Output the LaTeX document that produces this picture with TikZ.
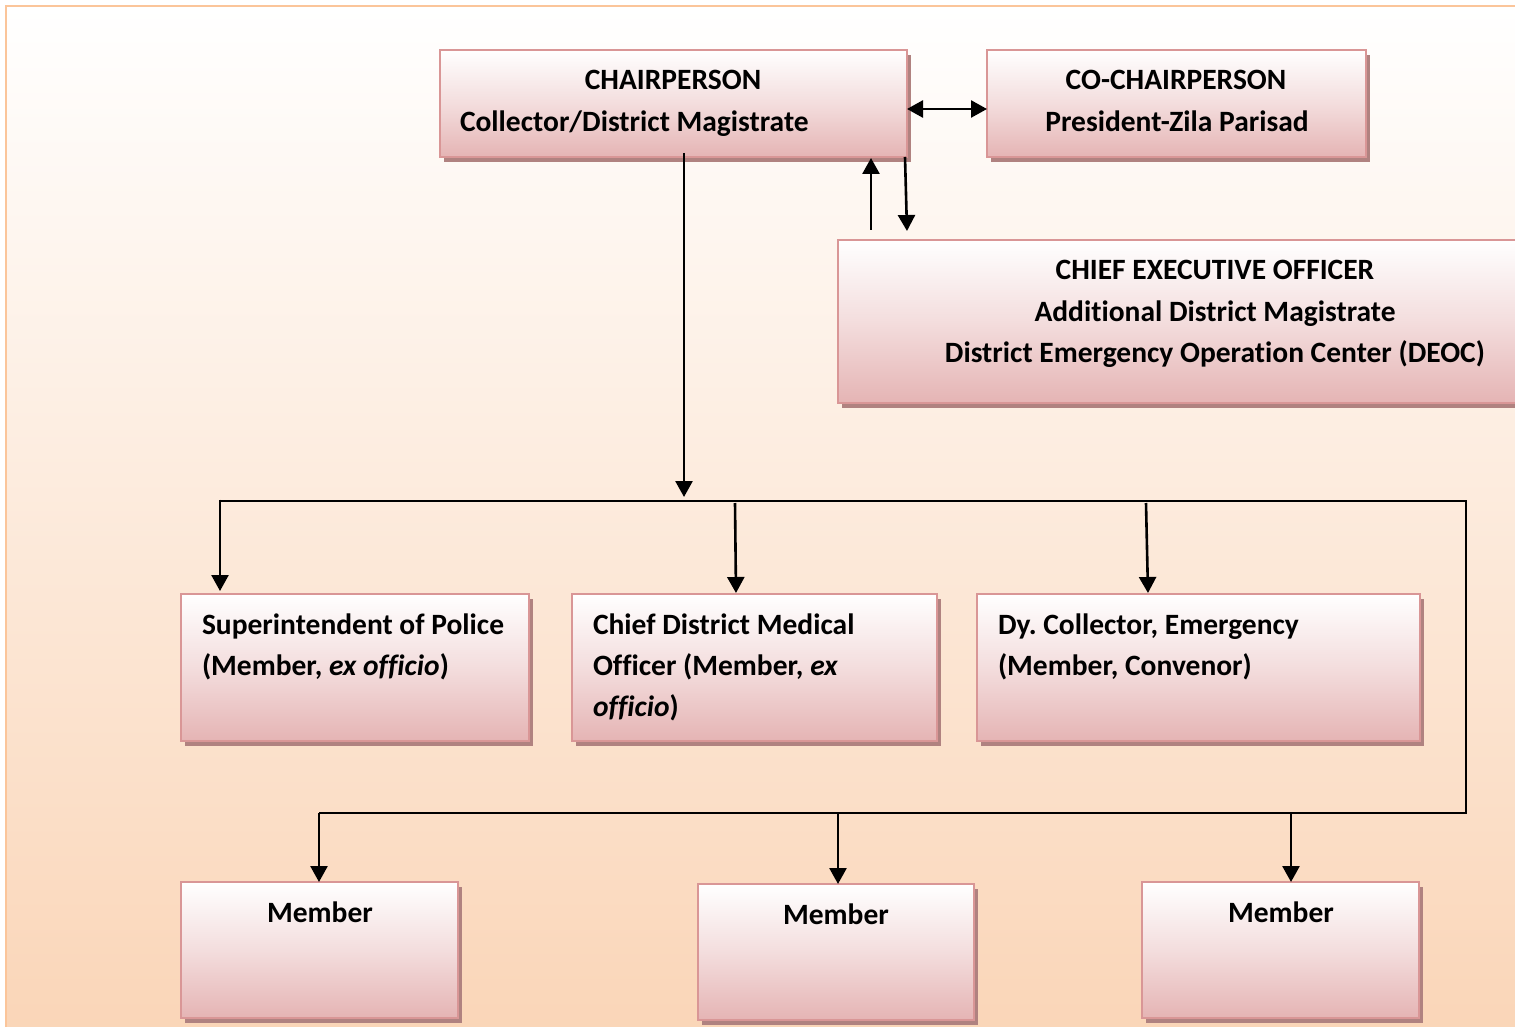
\documentclass[tikz,border=0pt]{standalone}
\usepackage{fontspec}
\setmainfont{Carlito}[RawFeature={-liga}]
\usetikzlibrary{shadows,arrows.meta}

\definecolor{bgpeach}{RGB}{250,213,183}
\definecolor{frameor}{RGB}{251,197,154}
\definecolor{boxedge}{RGB}{217,150,150}
\definecolor{boxpink}{RGB}{229,180,180}
\definecolor{boxshadow}{RGB}{176,130,128}

\tikzset{
  orgbox/.style={draw=boxedge, line width=2pt, top color=white, bottom color=boxpink,
    middle color={boxpink!45!white}, shading angle=0,
    drop shadow={shadow xshift=4pt, shadow yshift=-5pt, fill=boxshadow, opacity=1},
    inner sep=0pt, outer sep=0pt},
  lbl/.style={font=\bfseries\fontsize{29.5}{35}\selectfont, inner sep=0pt, outer sep=0pt},
  link/.style={line width=2.6pt, black},
  bus/.style={line width=2pt, black},
  tip/.tip={Triangle[width=17pt,length=16pt]},
  arr/.style={link, -tip},
  dblarr/.style={link, tip-tip},
}

\begin{document}
\frenchspacing
\begin{tikzpicture}[x=1pt,y=-1pt]
\useasboundingbox (0,0) rectangle (1515,1027);
\clip (0,0) rectangle (1515,1027);
\fill[white] (0,0) rectangle (1515,1027);
% page background and frame
\shade[top color=white, bottom color=bgpeach] (6,6) rectangle (1540,1040);
\draw[frameor, line width=2.5pt] (6,1040) -- (6,6) -- (1540,6);

% boxes
\node[orgbox, minimum width=467pt, minimum height=107pt] (chair)   at (673.5,103.5) {};
\node[orgbox, minimum width=379pt, minimum height=107pt] (cochair) at (1176.5,103.5) {};
\node[orgbox, minimum width=700pt, minimum height=163pt] (ceo)     at (1188,321.5) {};
\node[orgbox, minimum width=348pt, minimum height=147pt] (sp)      at (355,667.5) {};
\node[orgbox, minimum width=365pt, minimum height=147pt] (cdmo)    at (754.5,667.5) {};
\node[orgbox, minimum width=443pt, minimum height=147pt] (dyc)     at (1198.5,667.5) {};
\node[orgbox, minimum width=277pt, minimum height=136pt] (mA)      at (319.5,950) {};
\node[orgbox, minimum width=276pt, minimum height=136pt] (mB)      at (836,952) {};
\node[orgbox, minimum width=277pt, minimum height=136pt] (mC)      at (1280.5,950) {};

% box texts
\node[lbl, anchor=base] (chairA) at (673,89.5) {CHAIRPERSON};
\node[lbl, anchor=base west] (chairB) at (460,131.5) {Collector/District Magistrate};
\node[lbl, anchor=base] (cochairA) at (1176,89.5) {CO-CHAIRPERSON};
\node[lbl, anchor=base] (cochairB) at (1177,131.5) {President-Zila Parisad};
\node[lbl, anchor=base] (ceoA) at (1215,279.5) {CHIEF EXECUTIVE OFFICER};
\node[lbl, anchor=base] (ceoB) at (1215,321.5) {Additional District Magistrate};
\node[lbl, anchor=base] (ceoC) at (1215,362.5) {District Emergency Operation Center (DEOC)};
\node[lbl, anchor=base west] (spA) at (202,634.5) {Superintendent of Police};
\node[lbl, anchor=base west] (spB) at (202,675.5) {(Member, \textit{ex officio})};
\node[lbl, anchor=base west] (cdmoA) at (593,634.5) {Chief District Medical};
\node[lbl, anchor=base west] (cdmoB) at (593,675.5) {Officer (Member, \textit{ex}};
\node[lbl, anchor=base west] (cdmoC) at (593,716.5) {\textit{officio})};
\node[lbl, anchor=base west] (dycA) at (998,634.5) {Dy. Collector, Emergency};
\node[lbl, anchor=base west] (dycB) at (998,675.5) {(Member, Convenor)};
\node[lbl, anchor=base] (mAt) at (320,922.5) {Member};
\node[lbl, anchor=base] (mBt) at (836,924.5) {Member};
\node[lbl, anchor=base] (mCt) at (1281,922.5) {Member};

% junction points of the connectors
\coordinate (upS)   at (871,230);
\coordinate (dnS)   at (905,157);
\coordinate (dnE)   at (907,231);
\coordinate (mainS) at (684,153);
\coordinate (mainE) at (684,497);
\coordinate (busL)  at (220,500.5);
\coordinate (busR)  at (1466,500.5);
\coordinate (busRB) at (1466,813);
\coordinate (lowL)  at (319,813);
\coordinate (brB)   at (735,503);
\coordinate (brC)   at (1146,503);
\coordinate (lowB)  at (838,813);
\coordinate (lowC)  at (1291,813);

% connectors
\draw[dblarr] ([yshift=-5.5pt]chair.east) -- ([yshift=-5.5pt]cochair.west);
\draw[arr] (upS) -- ([yshift=-1pt]upS |- chair.south);
\draw[arr] (dnS) -- (dnE);
\draw[arr] (mainS) -- (mainE);
\draw[bus] (busL) -- (busR) -- (busRB) -- (lowL);
\draw[arr] ([yshift=1pt]busL) -- ([yshift=3pt]busL |- sp.north);
\draw[arr] (brB) -- ([xshift=1pt,yshift=1pt]brB |- cdmo.north);
\draw[arr] (brC) -- ([xshift=2pt,yshift=1pt]brC |- dyc.north);
\draw[arr] (lowL) -- (lowL |- mA.north);
\draw[arr] (lowB) -- (lowB |- mB.north);
\draw[arr] (lowC) -- (lowC |- mC.north);
\end{tikzpicture}
\end{document}
